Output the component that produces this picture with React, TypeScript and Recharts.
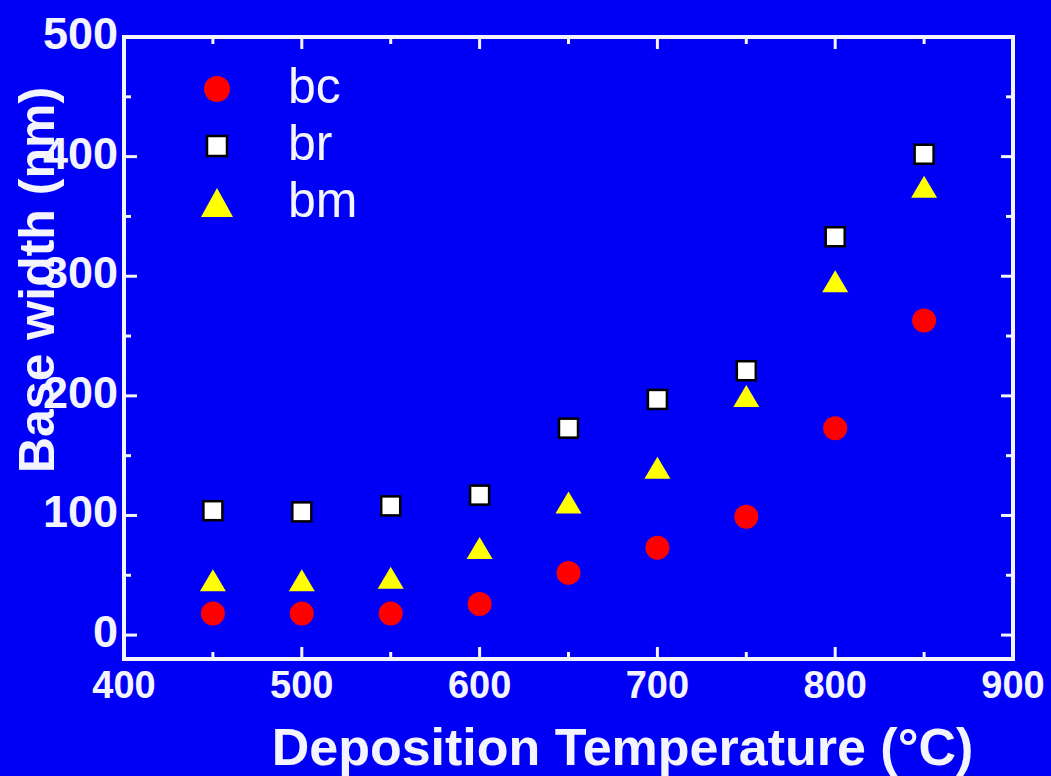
import React from 'react';
import { ScatterChart, Scatter, XAxis, YAxis, Legend } from 'recharts';

const temperatures = [450, 500, 550, 600, 650, 700, 750, 800, 850];
const bcValues = [18, 18, 18, 26, 52, 73, 99, 173, 263];
const brValues = [104, 103, 108, 117, 173, 197, 221, 333, 402];
const bmValues = [45, 45, 47, 72, 110, 139, 199, 295, 374];

const xTicks = [400, 450, 500, 550, 600, 650, 700, 750, 800, 850, 900];
const yTicks = [0, 50, 100, 150, 200, 250, 300, 350, 400, 450, 500];
const legendNames = ['bc', 'br', 'bm'];

const BG = '#0000f6';
const FG = '#f4f4ff';
const FONT = '"Liberation Sans", Arial, Helvetica, sans-serif';

const bcData = temperatures.map((t, i) => ({ x: t, y: bcValues[i] }));
const brData = temperatures.map((t, i) => ({ x: t, y: brValues[i] }));
const bmData = temperatures.map((t, i) => ({ x: t, y: bmValues[i] }));

const Circle = (p: any) => <circle cx={p.cx} cy={p.cy} r={12} fill="#ff0000" />;
const Square = (p: any) => (
  <rect x={p.cx - 9.5} y={p.cy - 9.5} width={19} height={19} fill="#ffffff" stroke="#000000" strokeWidth={2.5} />
);
const Triangle = (p: any) => (
  <polygon
    points={`${p.cx},${p.cy - 12} ${p.cx - 13},${p.cy + 10} ${p.cx + 13},${p.cy + 10}`}
    fill="#ffff00"
  />
);

const isMajor = (v: number, step: number) => v % step === 0;

const BottomTick = (p: any) => {
  const v = p.payload.value;
  const major = isMajor(v, 100);
  return (
    <g>
      <line x1={p.x} x2={p.x} y1={p.y} y2={p.y - (major ? 12 : 7)} stroke={FG} strokeWidth={3} />
      {major && (
        <text x={p.x} y={p.y + 39} textAnchor="middle" fill={FG} fontSize={38} fontWeight="bold" fontFamily={FONT}>
          {v}
        </text>
      )}
    </g>
  );
};

const TopTick = (p: any) => {
  const major = isMajor(p.payload.value, 100);
  return <line x1={p.x} x2={p.x} y1={p.y} y2={p.y + (major ? 12 : 7)} stroke={FG} strokeWidth={3} />;
};

const LeftTick = (p: any) => {
  const v = p.payload.value;
  const major = isMajor(v, 100);
  return (
    <g>
      <line x1={p.x} x2={p.x + (major ? 13 : 7)} y1={p.y} y2={p.y} stroke={FG} strokeWidth={3} />
      {major && (
        <text x={p.x - 6} y={p.y + 12} textAnchor="end" fill={FG} fontSize={45} fontWeight="bold" fontFamily={FONT}>
          {v}
        </text>
      )}
    </g>
  );
};

const RightTick = (p: any) => {
  const major = isMajor(p.payload.value, 100);
  return <line x1={p.x} x2={p.x - (major ? 12 : 7)} y1={p.y} y2={p.y} stroke={FG} strokeWidth={3} />;
};

const XTitle = (p: any) => {
  const vb = p.viewBox || { x: 124, y: 659, width: 889, height: 117 };
  return (
    <text
      x={vb.x + vb.width / 2 + 54}
      y={vb.y + 106}
      textAnchor="middle"
      fill={FG}
      fontSize={52}
      fontWeight="bold"
      fontFamily={FONT}
    >
      Deposition Temperature (°C)
    </text>
  );
};

const YTitle = (p: any) => {
  const vb = p.viewBox || { x: 0, y: 37, width: 124, height: 622 };
  const cx = vb.x + 54;
  const cy = vb.y + 243;
  return (
    <text
      x={cx}
      y={cy}
      transform={`rotate(-90, ${cx}, ${cy})`}
      textAnchor="middle"
      fill={FG}
      fontSize={50}
      fontWeight="bold"
      fontFamily={FONT}
    >
      Base width (nm)
    </text>
  );
};

const LegendBox = () => {
  const rows = [0, 1, 2];
  return (
    <svg width={420} height={260} style={{ display: 'block' }}>
      {rows.map((i) => {
        const cy = 89 + i * 57;
        const cx = 217;
        return (
          <g key={legendNames[i]}>
            {i === 0 && <circle cx={cx} cy={cy} r={13} fill="#ff0000" />}
            {i === 1 && (
              <rect x={cx - 10} y={cy - 10} width={20} height={20} fill="#ffffff" stroke="#000000" strokeWidth={2.5} />
            )}
            {i === 2 && (
              <polygon points={`${cx},${cy - 15} ${cx - 16},${cy + 14} ${cx + 16},${cy + 14}`} fill="#ffff00" />
            )}
            <text x={288} y={cy + 14} fill={FG} fontSize={50} fontFamily={FONT}>
              {legendNames[i]}
            </text>
          </g>
        );
      })}
    </svg>
  );
};

export default function App() {
  return (
    <div style={{ width: 1051, height: 776, background: BG, overflow: 'hidden' }}>
      <style>{'html,body{margin:0;padding:0;background:' + BG + ';overflow:hidden}'}</style>
      <ScatterChart
        width={1051}
        height={776}
        margin={{ top: 36, right: 37, bottom: 0, left: 0 }}
        style={{ background: BG }}
      >
        <XAxis
          xAxisId="b"
          dataKey="x"
          type="number"
          orientation="bottom"
          domain={[400, 900]}
          ticks={xTicks}
          interval={0}
          height={117}
          tickSize={0}
          tickMargin={0}
          tickLine={false}
          tick={<BottomTick />}
          axisLine={{ stroke: FG, strokeWidth: 4, strokeLinecap: 'square' }}
          allowDataOverflow
          label={<XTitle />}
        />
        <XAxis
          xAxisId="t"
          dataKey="x"
          type="number"
          orientation="top"
          domain={[400, 900]}
          ticks={xTicks}
          interval={0}
          height={1}
          tickSize={0}
          tickMargin={0}
          tickLine={false}
          tick={<TopTick />}
          axisLine={{ stroke: FG, strokeWidth: 4, strokeLinecap: 'square' }}
          allowDataOverflow
        />
        <YAxis
          yAxisId="l"
          dataKey="y"
          type="number"
          orientation="left"
          domain={[-20, 500]}
          ticks={yTicks}
          interval={0}
          width={124}
          tickSize={0}
          tickMargin={0}
          tickLine={false}
          tick={<LeftTick />}
          axisLine={{ stroke: FG, strokeWidth: 4, strokeLinecap: 'square' }}
          allowDataOverflow
          label={<YTitle />}
        />
        <YAxis
          yAxisId="r"
          dataKey="y"
          type="number"
          orientation="right"
          domain={[-20, 500]}
          ticks={yTicks}
          interval={0}
          width={1}
          tickSize={0}
          tickMargin={0}
          tickLine={false}
          tick={<RightTick />}
          axisLine={{ stroke: FG, strokeWidth: 4, strokeLinecap: 'square' }}
          allowDataOverflow
        />
        <Legend
          layout="vertical"
          align="center"
          verticalAlign="middle"
          content={<LegendBox />}
          wrapperStyle={{ position: 'absolute', left: 0, top: 0, width: 420, height: 260, margin: 0, padding: 0 }}
        />
        <Scatter name="bc" data={bcData} xAxisId="b" yAxisId="l" shape={Circle} isAnimationActive={false} />
        <Scatter name="br" data={brData} xAxisId="b" yAxisId="l" shape={Square} isAnimationActive={false} />
        <Scatter name="bm" data={bmData} xAxisId="b" yAxisId="l" shape={Triangle} isAnimationActive={false} />
        <Scatter name="frame-top" data={[]} xAxisId="t" yAxisId="r" legendType="none" isAnimationActive={false} />
      </ScatterChart>
    </div>
  );
}
